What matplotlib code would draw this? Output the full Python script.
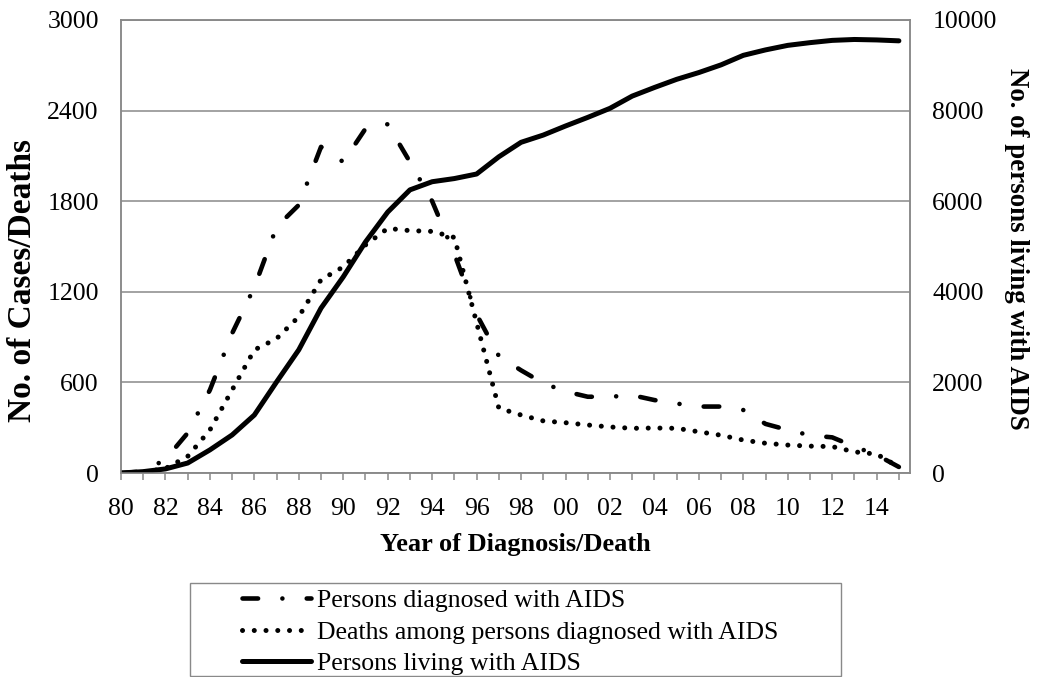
import numpy as np
import matplotlib.pyplot as plt
from matplotlib.patches import Rectangle

plt.rcParams["font.family"] = ["Liberation Serif", "DejaVu Serif"]

# 연도 (1980-2015)
years = list(range(1980, 2016))

# Persons diagnosed with AIDS (left axis)
diagnosed = [0, 10, 90, 265, 550, 925, 1230, 1630, 1775, 2160,
             2060, 2280, 2310, 2060, 1800, 1450, 1050, 775, 680, 595,
             540, 505, 505, 515, 483, 460, 440, 440, 417, 325,
             285, 250, 236, 175, 120, 40]

# Deaths among persons diagnosed with AIDS (left axis)
deaths = [0, 5, 30, 110, 285, 550, 815, 890, 1035, 1280,
          1365, 1510, 1620, 1605, 1600, 1560, 995, 430, 384, 345,
          333, 318, 305, 296, 298, 296, 273, 250, 218, 197,
          185, 178, 175, 140, 125, 40]

# Persons living with AIDS (right axis)
living = [0, 30, 90, 220, 510, 840, 1280, 2010, 2720, 3640,
          4330, 5100, 5760, 6250, 6430, 6500, 6600, 6980, 7300, 7460,
          7660, 7850, 8050, 8320, 8510, 8690, 8840, 9010, 9220, 9340,
          9440, 9500, 9550, 9570, 9560, 9540]

left_ticks = [0, 600, 1200, 1800, 2400, 3000]
right_ticks = [0, 2000, 4000, 6000, 8000, 10000]

grid_color = "#898989"
W, H = 1039, 677

fig = plt.figure(figsize=(W / 100, H / 100), dpi=100)
ax = fig.add_axes([121 / W, 1 - 473 / H, (910 - 121) / W, (473 - 20) / H])
ax2 = ax.twinx()

l1, = ax.plot(years, diagnosed, color="black", lw=3.3,
              dashes=(3.4, 5.3, 0.01, 5.3), dash_capstyle="round",
              label="Persons diagnosed with AIDS")
l2, = ax.plot(years, deaths, color="black", lw=3.6,
              dashes=(0.01, 2.34), dash_capstyle="round",
              label="Deaths among persons diagnosed with AIDS")
l3, = ax2.plot(years, living, color="black", lw=3.6,
               solid_capstyle="round",
               label="Persons living with AIDS")

ax.set_xlim(1980, 2015.5)
ax.set_ylim(0, 3000)
ax2.set_ylim(0, 10000)
ax.set_yticks(left_ticks)
ax2.set_yticks(right_ticks)
ax.set_xticks(years)
ax.set_xticklabels([f"{y % 100:02d}" if y % 2 == 0 else "" for y in years])

ax.grid(axis="y", color=grid_color, lw=1.1)
ax.set_axisbelow(True)

for a in (ax, ax2):
    for s in a.spines.values():
        s.set_color(grid_color)
        s.set_linewidth(1.1)
ax.tick_params(axis="y", length=0, labelsize=18.5, pad=16)
ax2.tick_params(axis="y", length=0, labelsize=18.5, pad=16)
ax.tick_params(axis="x", length=5, color=grid_color, width=1.1,
               labelsize=18.5, pad=13)

# 축 제목
fig.text(515.5 / W, 1 - 545 / H, "Year of Diagnosis/Death", fontsize=19,
         fontweight="bold", ha="center", va="center")
fig.text(23 / W, 1 - 280 / H, "No. of Cases/Deaths", fontsize=24,
         fontweight="bold", rotation=90, ha="center", va="center")
fig.text(1017 / W, 1 - 248.5 / H, "No. of persons living with AIDS",
         fontsize=19.4, fontweight="bold", rotation=-90,
         ha="center", va="center")

# 범례
fig.patches.append(Rectangle((190 / W, 1 - 676 / H), (841 - 190) / W,
                             (676 - 583) / H, transform=fig.transFigure,
                             fill=False, edgecolor=grid_color, lw=1.0))
leg = fig.legend(handles=[l1, l2, l3], loc="upper left",
                 bbox_to_anchor=(242 / W, 1 - 589 / H), fontsize=18.5,
                 frameon=False, handlelength=2.7, handletextpad=0.2,
                 borderpad=0, borderaxespad=0, labelspacing=0.34)

fig.savefig("out.png", dpi=100)
